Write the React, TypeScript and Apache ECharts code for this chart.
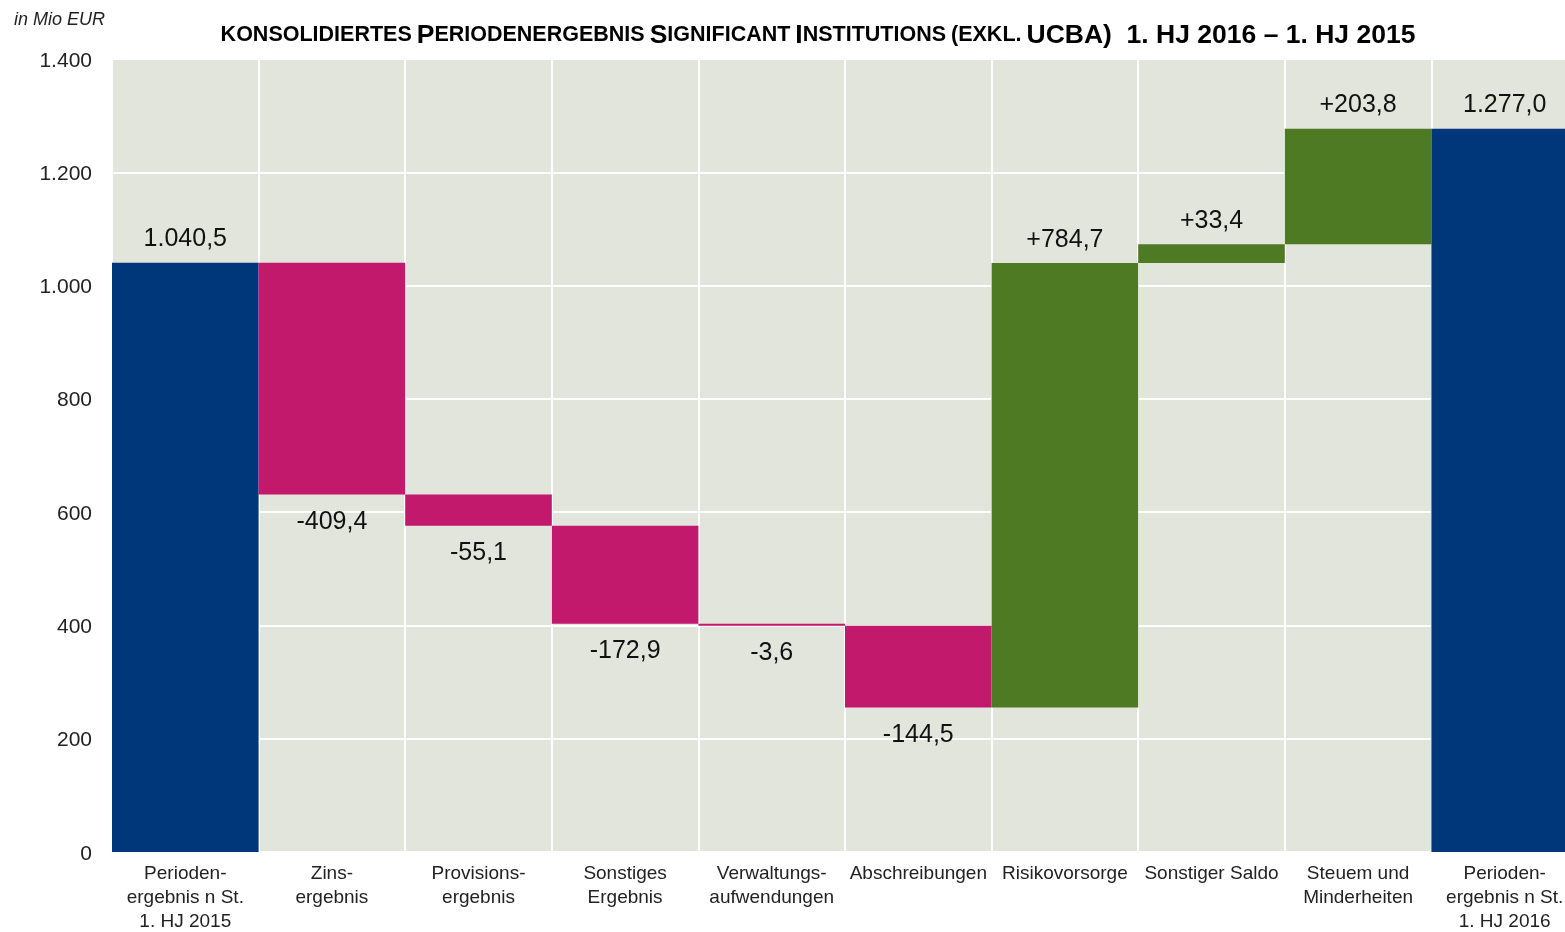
import React, { useEffect, useRef } from "react";
import * as echarts from "echarts";

const categories = [
  "Perioden-\nergebnis n St.\n1. HJ 2015",
  "Zins-\nergebnis",
  "Provisions-\nergebnis",
  "Sonstiges\nErgebnis",
  "Verwaltungs-\naufwendungen",
  "Abschreibungen",
  "Risikovorsorge",
  "Sonstiger Saldo",
  "Steuem und\nMinderheiten",
  "Perioden-\nergebnis n St.\n1. HJ 2016",
];
// kind: total | delta
const kinds = ["total", "delta", "delta", "delta", "delta", "delta", "delta", "delta", "delta", "total"];
const values = [1040.5, -409.4, -55.1, -172.9, -3.6, -144.5, 784.7, 33.4, 203.8, 1277.0];
const yTicks = [0, 200, 400, 600, 800, 1000, 1200, 1400];

const COL_TOTAL = "#00377B";
const COL_NEG = "#C2196C";
const COL_POS = "#4E7A23";

function fmt(v: number, sign: boolean) {
  const abs = Math.abs(v);
  const [i, d] = abs.toFixed(1).split(".");
  const ip = i.replace(/\B(?=(\d{3})+(?!\d))/g, ".");
  const s = v < 0 ? "-" : sign ? "+" : "";
  return s + ip + "," + d;
}

export default function App() {
  const ref = useRef<HTMLDivElement>(null);
  useEffect(() => {
    if (!ref.current) return;
    const chart = echarts.init(ref.current, null, { renderer: "svg" });
    const base: number[] = [];
    const vis: any[] = [];
    let run = 0;
    values.forEach((v, i) => {
      if (kinds[i] === "total") {
        base.push(0);
        run = v;
        vis.push({
          value: v,
          itemStyle: { color: COL_TOTAL },
          label: { position: "top", formatter: fmt(v, false) },
        });
      } else {
        const next = run + v;
        base.push(Math.min(run, next));
        vis.push({
          value: Math.abs(v),
          itemStyle: { color: v < 0 ? COL_NEG : COL_POS },
          label: { position: v < 0 ? "bottom" : "top", formatter: fmt(v, true) },
        });
        run = next;
      }
    });
    const font = "'Liberation Sans Narrow', 'Liberation Sans', Arial, sans-serif";
    chart.setOption({
      animation: false,
      title: {
        text:
          "{s|KONSOLIDIERTES} {b|P}{s|ERIODENERGEBNIS} {b|S}{s|IGNIFICANT} {b|I}{s|NSTITUTIONS} {s|(EXKL.} {b|UCBA)  1. HJ 2016 – 1. HJ 2015}",
        left: 813,
        textAlign: "center",
        top: 15,
        textStyle: {
          rich: {
            b: { fontSize: 26.5, fontWeight: "bold", color: "#000", fontFamily: font },
            s: { fontSize: 21.5, fontWeight: "bold", color: "#000", fontFamily: font },
          },
        },
      },
      graphic: [
        {
          type: "text",
          left: 14,
          top: 10,
          style: {
            text: "in Mio EUR",
            fontSize: 18,
            fontStyle: "italic",
            fill: "#222",
            fontFamily: font,
          },
        },
      ],
      grid: {
        left: 112,
        right: 0,
        top: 59,
        bottom: 75,
        show: true,
        backgroundColor: "#E2E5DC",
        borderWidth: 0,
      },
      xAxis: {
        type: "category",
        data: categories,
        axisLine: { show: false },
        axisTick: { show: false },
        axisLabel: {
          interval: 0,
          fontSize: 19,
          lineHeight: 24,
          color: "#222",
          fontFamily: font,
          margin: 8,
        },
        splitLine: { show: true, interval: 0, lineStyle: { color: "#fff", width: 2 } },
      },
      yAxis: {
        type: "value",
        min: 0,
        max: 1400,
        interval: 200,
        axisLine: { show: false },
        axisTick: { show: false },
        axisLabel: {
          fontSize: 21,
          color: "#222",
          margin: 20,
          fontFamily: font,
          formatter: (v: number) =>
            yTicks.includes(v) ? String(v).replace(/\B(?=(\d{3})+(?!\d))/g, ".") : "",
        },
        splitLine: { show: true, lineStyle: { color: "#fff", width: 2 } },
      },
      series: [
        {
          type: "bar",
          stack: "w",
          data: base,
          itemStyle: { color: "transparent" },
          silent: true,
          barCategoryGap: 0,
          barWidth: "100%",
        },
        {
          type: "bar",
          stack: "w",
          data: vis,
          barCategoryGap: 0,
          barWidth: "100%",
          label: {
            show: true,
            fontSize: 25,
            color: "#111",
            distance: 13,
            fontFamily: font,
          },
        },
      ],
    });
    return () => chart.dispose();
  }, []);
  return (
    <div style={{ position: "fixed", left: 0, top: 0, width: 1565, height: 932, overflow: "hidden" }}>
      <div ref={ref} style={{ width: 1578, height: 932 }} />
    </div>
  );
}
